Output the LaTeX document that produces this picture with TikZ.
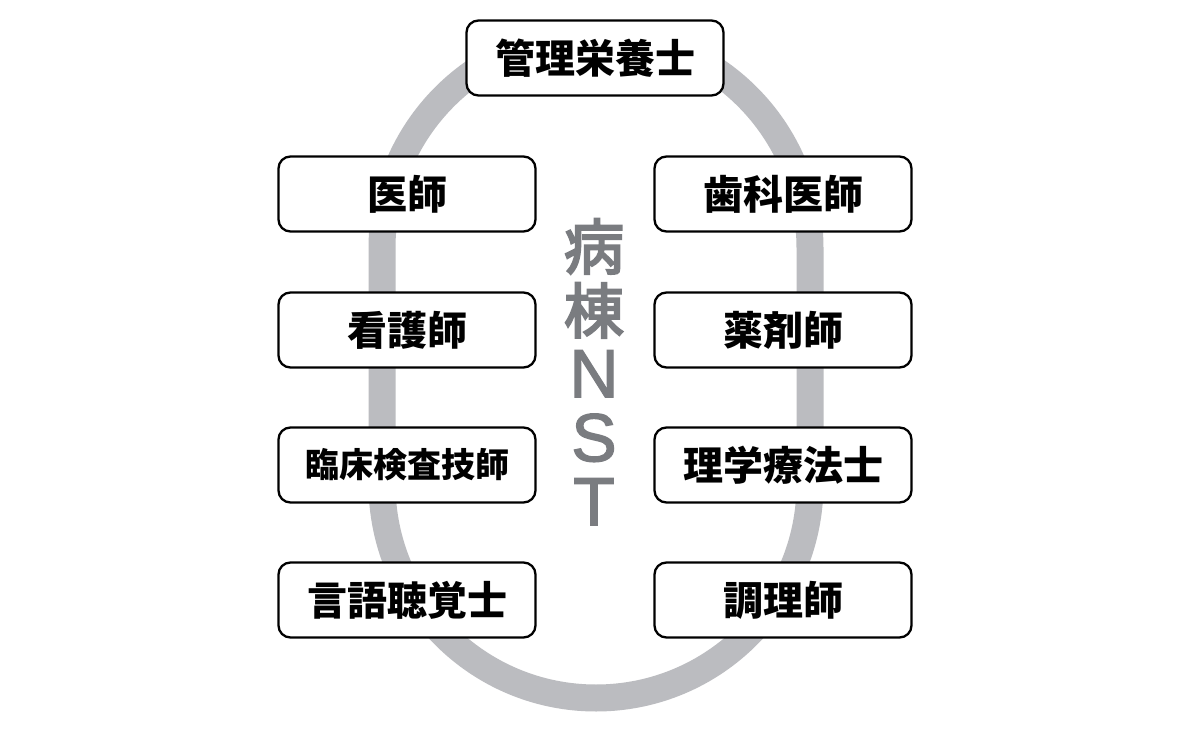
\documentclass[tikz,border=0pt]{standalone}
\usepackage{fontspec}
\newfontfamily\jp{Noto Sans CJK JP}
\newfontfamily\jpmed{Noto Sans CJK JP}[FakeBold=3.5]
\newfontfamily\latinsans{Liberation Sans}[FakeBold=2]
\definecolor{ringgray}{HTML}{BBBCC0}
\definecolor{nstgray}{HTML}{7A7C80}
\begin{document}
\begin{tikzpicture}[x=1pt,y=-1pt,
  role/.style={draw=black, line width=2.3pt, rounded corners=12pt, fill=white,
    minimum width=257pt, minimum height=75pt, inner sep=0pt,
    font=\jp\bfseries\fontsize{40}{40}\selectfont},
  smalltext/.style={font=\jp\bfseries\fontsize{34}{34}\selectfont},
  ring/.style={draw=ringgray, line width=27pt},
  nstlabel/.style={text=nstgray, align=center, inner sep=0pt,
    font=\latinsans\fontsize{68}{64}\selectfont}]
\useasboundingbox (0,0) rectangle (1200,741);
\fill[white] (0,0) rectangle (1200,741);
\draw[ring, rounded corners=214pt] (382,34) rectangle (810,698);
\node[nstlabel] (nst) at (594,372) {{\jpmed\fontsize{60}{64}\selectfont 病}\\{\jpmed\fontsize{60}{64}\selectfont 棟}\\N\\S\\T};
\node[role] (eiyo) at (595,58) {管理栄養士};
\node[role] (ishi) at (407,194) {医師};
\node[role] (shika) at (783,194) {歯科医師};
\node[role] (kango) at (407,330) {看護師};
\node[role] (yaku) at (783,330) {薬剤師};
\node[role, smalltext] (rinsho) at (407,465) {臨床検査技師};
\node[role] (rigaku) at (783,465) {理学療法士};
\node[role] (gengo) at (407,600) {言語聴覚士};
\node[role] (chori) at (783,600) {調理師};
\end{tikzpicture}
\end{document}
